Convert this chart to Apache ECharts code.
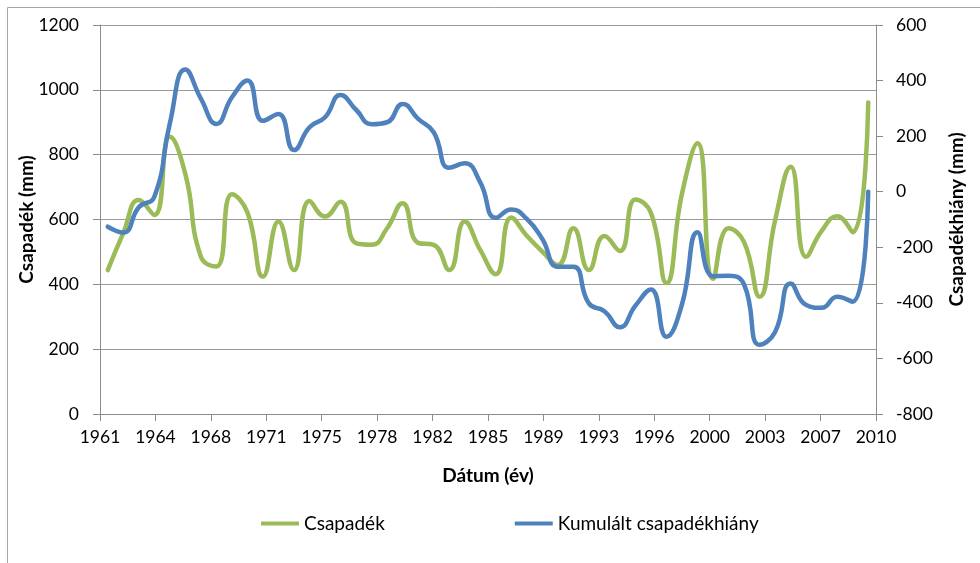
<!DOCTYPE html>
<html>
<head>
<meta charset="utf-8">
<script src="https://cdn.jsdelivr.net/npm/echarts@6/dist/echarts.min.js"></script>
<style>
html,body{margin:0;padding:0;background:#fff;}
#chart{width:980px;height:563px;}
</style>
</head>
<body>
<div id="chart"></div>
<script>
// Years 1961..2010
const years = [1961,1962,1963,1964,1965,1966,1967,1968,1969,1970,
  1971,1972,1973,1974,1975,1976,1977,1978,1979,1980,
  1981,1982,1983,1984,1985,1986,1987,1988,1989,1990,
  1991,1992,1993,1994,1995,1996,1997,1998,1999,2000,
  2001,2002,2003,2004,2005,2006,2007,2008,2009,2010];

// Csapadék (mm) - left axis
const csapadek = [444,558,660,614,855,740,485,455,678,622,
  424,594,444,657,609,655,527,522,573,650,
  528,522,444,594,506,431,606,550,501,460,
  573,444,549,503,662,620,404,680,835,417,
  573,530,362,598,763,485,565,610,561,961];

// Kumulált csapadékhiány (mm) - right axis
const kumulalt = [-126,-147,-56,-18,246,440,335,244,340,400,
  255,280,150,232,268,348,295,243,250,316,
  262,214,86,102,34,-94,-64,-98,-170,-270,
  -270,-402,-430,-488,-410,-352,-522,-405,-146,-304,
  -302,-334,-551,-505,-330,-408,-418,-378,-396,0];

// x-axis tick labels (15 ticks spanning the 50 year slots)
const xTickLabels = ['1961','1964','1968','1971','1975','1978','1982','1985','1989','1993','1996','2000','2003','2007','2010'];

const leftTicks = {min:0, max:1200, interval:200};
const rightTicks = {min:-800, max:600, interval:200};

// Axis span: 50 year slots, 14 label intervals -> scale units of 1/14 slot
const SLOT = 14;
const xMax = years.length * SLOT;          // 700
const xInterval = xMax / (xTickLabels.length - 1); // 50

const greenData = csapadek.map((v,i)=>[i*SLOT + SLOT/2, v]);
const blueData = kumulalt.map((v,i)=>[i*SLOT + SLOT/2, v]);

const FONT = 'Lato';
const axisGray = '#8c8c8c';

const chart = echarts.init(document.getElementById('chart'), null, {renderer:'canvas'});
chart.setOption({
  animation:false,
  backgroundColor:'#fff',
  textStyle:{fontFamily:FONT},
  graphic:[{
    type:'rect', silent:true, z:-1,
    shape:{x:7.5,y:7.5,width:1000,height:600},
    style:{fill:null, stroke:'#a6a6a6', lineWidth:1}
  }],
  grid:{left:100, right:104, top:25, bottom:149, containLabel:false},
  legend:{
    left:256, top:509,
    icon:'rect', itemWidth:38, itemHeight:4, itemGap:130,
    textStyle:{fontFamily:FONT, fontSize:19, color:'#000'},
    data:['Csapadék','Kumulált csapadékhiány']
  },
  xAxis:{
    type:'value', min:0, max:xMax, interval:xInterval,
    name:'Dátum (év)', nameLocation:'middle', nameGap:52, nameMoveOverlap:false,
    nameTextStyle:{fontFamily:FONT, fontSize:19, fontWeight:'bold', color:'#000'},
    axisLine:{show:true, onZero:false, lineStyle:{color:axisGray, width:1}},
    axisTick:{show:true, inside:false, length:7, lineStyle:{color:axisGray}},
    splitLine:{show:false},
    axisLabel:{
      margin:14, fontFamily:FONT, fontSize:17.5, color:'#000',
      formatter:(v)=>xTickLabels[Math.round(v / xInterval)] || ''
    }
  },
  yAxis:[{
    type:'value', position:'left',
    min:leftTicks.min, max:leftTicks.max, interval:leftTicks.interval,
    name:'Csapadék (mm)', nameLocation:'middle', nameGap:64, nameRotate:90, nameMoveOverlap:false,
    nameTextStyle:{fontFamily:FONT, fontSize:19, fontWeight:'bold', color:'#000'},
    axisLine:{show:true, lineStyle:{color:axisGray, width:1}},
    axisTick:{show:true, inside:false, length:7, lineStyle:{color:axisGray}},
    splitLine:{show:true, lineStyle:{color:'#9a9a9a', width:1}},
    axisLabel:{margin:21, fontFamily:FONT, fontSize:17.5, color:'#000', formatter:(v)=>String(v)}
  },{
    type:'value', position:'right',
    min:rightTicks.min, max:rightTicks.max, interval:rightTicks.interval,
    name:'Csapadékhiány (mm)', nameLocation:'middle', nameGap:71, nameRotate:90, nameMoveOverlap:false,
    nameTextStyle:{fontFamily:FONT, fontSize:19, fontWeight:'bold', color:'#000'},
    axisLine:{show:true, lineStyle:{color:axisGray, width:1}},
    axisTick:{show:true, inside:false, length:7, lineStyle:{color:axisGray}},
    splitLine:{show:false},
    axisLabel:{margin:20, fontFamily:FONT, fontSize:17.5, color:'#000', formatter:(v)=>String(v)}
  }],
  series:[{
    name:'Csapadék', type:'line', yAxisIndex:0,
    data:greenData, smooth:0.5, showSymbol:false, symbol:'none',
    lineStyle:{color:'#9BBB59', width:4.5, cap:'round', join:'round'},
    itemStyle:{color:'#9BBB59'}
  },{
    name:'Kumulált csapadékhiány', type:'line', yAxisIndex:1,
    data:blueData, smooth:0.5, showSymbol:false, symbol:'none',
    lineStyle:{color:'#4F81BD', width:4.5, cap:'round', join:'round'},
    itemStyle:{color:'#4F81BD'}
  }]
});
</script>
</body>
</html>
